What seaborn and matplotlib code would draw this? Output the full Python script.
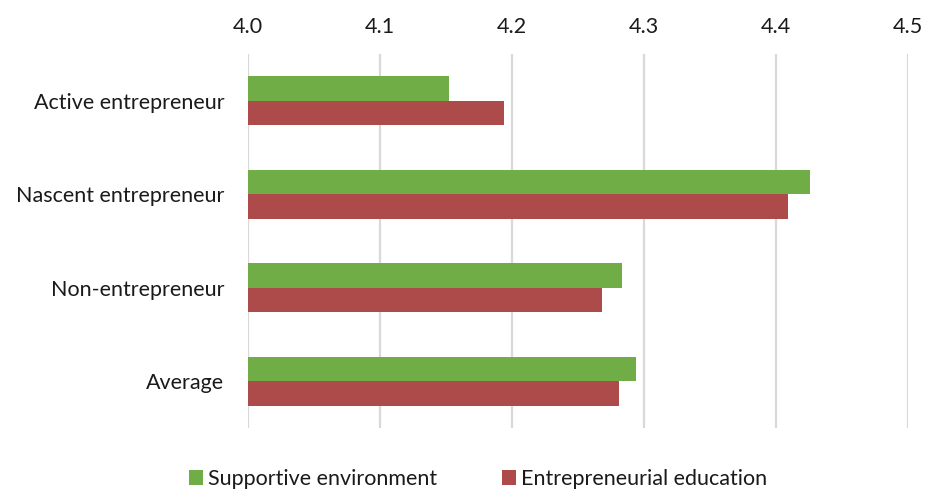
import matplotlib
matplotlib.use("Agg")
import matplotlib.pyplot as plt
import seaborn as sns
import pandas as pd

categories = ["Active entrepreneur", "Nascent entrepreneur", "Non-entrepreneur", "Average"]
supportive_environment = [4.152, 4.426, 4.283, 4.294]
entrepreneurial_education = [4.194, 4.409, 4.268, 4.281]
series_names = ["Supportive environment", "Entrepreneurial education"]
x_ticks = [4.0, 4.1, 4.2, 4.3, 4.4, 4.5]

df = pd.DataFrame({
    "category": categories * 2,
    "series": [series_names[0]] * 4 + [series_names[1]] * 4,
    "value": supportive_environment + entrepreneurial_education,
})

sns.set_theme(style="white")
plt.rcParams["font.family"] = ["Lato", "DejaVu Sans"]

fig = plt.figure(figsize=(9.27, 4.92), dpi=100)
ax = fig.add_axes([248 / 927, 1 - 428 / 492, 660 / 927, 374 / 492])

palette = {series_names[0]: "#70AD47", series_names[1]: "#AD4A4A"}
sns.barplot(data=df, y="category", x="value", hue="series", hue_order=series_names,
            order=categories, palette=palette, orient="h", width=0.52,
            saturation=1, linewidth=0, edgecolor="none", ax=ax, legend=True)

# the value axis starts at 4.0, so the bars are shown from there
ax.set_xlim(x_ticks[0], x_ticks[-1])
ax.set_xticks(x_ticks)
ax.set_xticklabels([f"{t:.1f}" for t in x_ticks], fontsize=15.5)
ax.xaxis.tick_top()
ax.tick_params(axis="x", length=0, pad=12, colors="#1a1a1a")
ax.tick_params(axis="y", length=0, pad=17, labelsize=15.5, colors="#1a1a1a")
ax.set_xlabel("")
ax.set_ylabel("")
ax.grid(axis="x", color="#d9d9d9", linewidth=1.6)
ax.set_axisbelow(True)
for s in ax.spines.values():
    s.set_visible(False)

handles, labels = ax.get_legend_handles_labels()
ax.get_legend().remove()
fig.legend(handles, labels, loc="center", bbox_to_anchor=(478 / 927, 1 - 479 / 492),
           ncol=2, frameon=False, fontsize=15.5, handlelength=0.65, handleheight=0.65,
           handletextpad=0.25, columnspacing=3.0, labelcolor="#1a1a1a")

fig.savefig("out.png", dpi=100)
